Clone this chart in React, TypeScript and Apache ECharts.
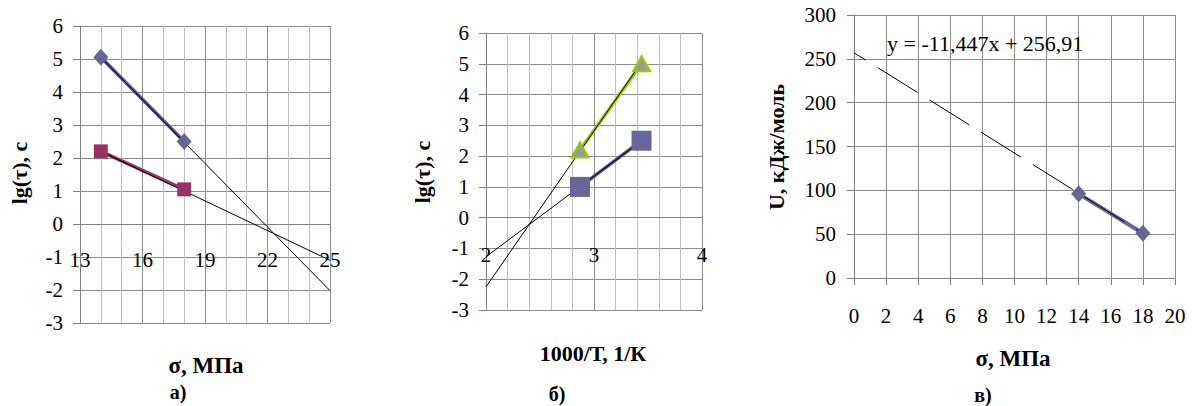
import React, { useEffect, useRef } from "react";
import * as echarts from "echarts";

// Chart а) lg(τ) vs σ
const sigmaA = [14, 18];
const lgTauA1 = [5.05, 2.5];
const lgTauA2 = [2.2, 1.05];
const trendA1X = [14, 25];
const trendA1Y = [5.05, -2.02];
const trendA2X = [14, 25];
const trendA2Y = [2.2, -1.1];

// Chart б) lg(τ) vs 1000/T
const invTB = [2.87, 3.44];
const lgTauB1 = [2.2, 5.0];
const lgTauB2 = [1.0, 2.5];
const trendB1X = [2, 3.44];
const trendB1Y = [-2.25, 5.05];
const trendB2X = [2, 3.44];
const trendB2Y = [-1.27, 2.5];

// Chart в) U vs σ
const sigmaC = [14, 18];
const uC = [96, 51];
const trendCX = [0, 18];
const trendCY = [256.91, 50.86];
const equationC = "y = -11,447x + 256,91";

const FONT = "Liberation Serif";
const pts = (xs: number[], ys: number[]) => xs.map((x, i) => [x, ys[i]]);

function axis(min: number, max: number, interval: number, margin: number, minorSplit: number) {
  const a: any = {
    type: "value",
    min,
    max,
    interval,
    axisLine: { show: true, lineStyle: { color: "#808080", width: 1 } },
    axisTick: { show: true, length: 7, lineStyle: { color: "#808080", width: 1 } },
    splitLine: { show: true, lineStyle: { color: "#8c8c8c", width: 1 } },
    axisLabel: { fontFamily: FONT, fontSize: 21, color: "#000", margin },
  };
  if (minorSplit) {
    a.minorTick = { show: false, splitNumber: minorSplit };
    a.minorSplitLine = { show: true, lineStyle: { color: "#c0c0c0", width: 1 } };
  }
  return a;
}

function txt(text: string, x: number, y: number, size: number, bold: boolean, rot = 0, align = "center") {
  return {
    type: "text",
    x,
    y,
    rotation: rot,
    style: {
      text,
      fontFamily: FONT,
      fontSize: size,
      fontWeight: bold ? "bold" : "normal",
      fill: "#000",
      align,
      verticalAlign: "middle",
    },
  };
}

function lineSeries(data: number[][], symbol: string, size: any, item: any, line: any) {
  return { type: "line", data, symbol, symbolSize: size, itemStyle: item, lineStyle: line };
}
function trend(data: number[][], extra: any = {}) {
  return { type: "line", data, symbol: "none", lineStyle: { color: "#000", width: 1, ...extra } };
}

const optA = {
  animation: false,
  grid: { left: 80, top: 26, width: 250, height: 297 },
  xAxis: axis(13, 25, 3, -74, 3),
  yAxis: axis(-3, 6, 1, 17, 0),
  series: [
    lineSeries(pts(sigmaA, lgTauA1), "diamond", [15, 17], { color: "#666699" }, { color: "#555588", width: 3.5 }),
    lineSeries(pts(sigmaA, lgTauA2), "rect", 14, { color: "#993366" }, { color: "#993366", width: 3.5 }),
    trend(pts(trendA1X, trendA1Y)),
    trend(pts(trendA2X, trendA2Y)),
  ],
};
const gA = [
  txt("lg(τ), с", 19, 173, 22, true, Math.PI / 2),
  txt("σ, МПа", 206, 365, 23, true),
  txt("а)", 178, 392, 20, true),
];

const optB = {
  animation: false,
  grid: { left: 486, top: 33, width: 216, height: 277 },
  xAxis: axis(2, 4, 1, -66, 5),
  yAxis: axis(-3, 6, 1, 17, 0),
  series: [
    lineSeries(pts(invTB, lgTauB1), "triangle", [17, 15], { color: "#999999", borderColor: "#99cc00", borderWidth: 2 }, { color: "#99cc00", width: 3.5 }),
    lineSeries(pts(invTB, lgTauB2), "rect", 20, { color: "#666699" }, { color: "#555588", width: 3.5 }),
    trend(pts(trendB1X, trendB1Y)),
    trend(pts(trendB2X, trendB2Y)),
  ],
};
const gB = [
  txt("lg(τ), с", 422, 172, 22, true, Math.PI / 2),
  txt("1000/Т, 1/К", 593, 353, 22, true),
  txt("б)", 557, 394, 20, true),
];

const optC = {
  animation: false,
  grid: { left: 854, top: 15, width: 321, height: 263 },
  xAxis: axis(0, 20, 2, 27, 0),
  yAxis: axis(0, 300, 50, 18, 0),
  series: [
    lineSeries(pts(sigmaC, uC), "diamond", [15, 17], { color: "#666699" }, { color: "#666699", width: 4 }),
    trend(pts(trendCX, trendCY), { type: [47, 14], dashOffset: 33 }),
  ],
};
const gC = [
  txt("U, кДж/моль", 776, 147, 22, true, Math.PI / 2),
  txt("σ, МПа", 1013, 358, 23, true),
  txt("в)", 983, 395, 20, true),
  txt(equationC, 887, 43, 22, false, 0, "left"),
];

export default function App() {
  const r1 = useRef<HTMLDivElement>(null);
  const r2 = useRef<HTMLDivElement>(null);
  const r3 = useRef<HTMLDivElement>(null);
  useEffect(() => {
    const specs: any[] = [
      [r1.current, optA, gA],
      [r2.current, optB, gB],
      [r3.current, optC, gC],
    ];
    const charts: any[] = [];
    specs.forEach(([el, opt, g]) => {
      if (!el) return;
      const c = echarts.init(el, null, { renderer: "svg" });
      charts.push(c);
      c.setOption(opt);
      c.setOption({ graphic: g });
    });
    return () => charts.forEach((c) => c.dispose());
  }, []);
  const st: any = { position: "fixed", left: 0, top: 0, width: 1192, height: 406 };
  return (
    <div style={{ position: "fixed", left: 0, top: 0, width: 1192, height: 406, background: "#fff" }}>
      <div ref={r1} style={st} />
      <div ref={r2} style={st} />
      <div ref={r3} style={st} />
    </div>
  );
}
